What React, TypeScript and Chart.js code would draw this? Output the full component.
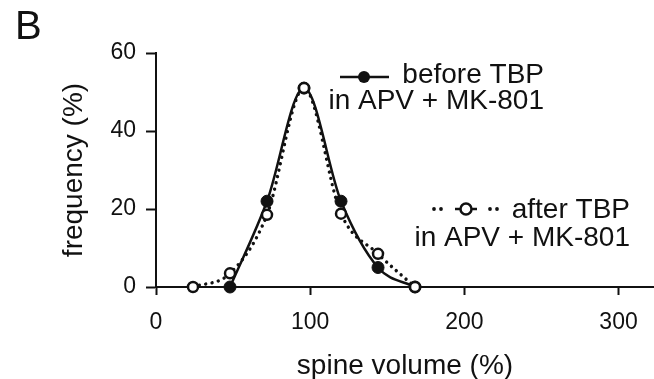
import React, { useEffect, useRef } from "react";
import { Chart, registerables } from "chart.js";

Chart.register(...registerables);

// ---- data ----
const bins = [24, 48, 72, 96, 120, 144, 168];
const beforeTBP: (number | null)[] = [null, 0, 22, 51, 22, 5, 0];
const afterTBP: (number | null)[] = [0, 3.5, 18.5, 51, 18.8, 8.5, 0];
const xTicks = [0, 100, 200, 300];
const yTicks = [0, 20, 40, 60];
const xRange = [0, 323];
const yRange = [0, 60];
const panelLabel = "B";
const legendBefore = ["before TBP", "in APV + MK-801"];
const legendAfter = ["after TBP", "in APV + MK-801"];
const xTitle = "spine volume (%)";
const yTitle = "frequency (%)";

const FONT = 'Arial, "Liberation Sans", Helvetica, sans-serif';
const INK = "#111";

const toPoints = (vals: (number | null)[]) =>
  bins
    .map((x, i) => ({ x, y: vals[i] }))
    .filter((p) => p.y !== null) as { x: number; y: number }[];

const overlay = {
  id: "overlay",
  afterDraw(chart: any) {
    const ctx = chart.ctx as CanvasRenderingContext2D;
    ctx.save();
    ctx.fillStyle = INK;
    ctx.strokeStyle = INK;
    ctx.textBaseline = "alphabetic";
    ctx.textAlign = "left";
    ctx.font = `40px ${FONT}`;
    ctx.fillText(panelLabel, 15, 39);

    ctx.font = `28px ${FONT}`;
    ctx.textAlign = "right";
    ctx.fillText(legendBefore[0], 544, 83);
    ctx.fillText(legendBefore[1], 544, 109);
    ctx.fillText(legendAfter[0], 630, 218);
    ctx.fillText(legendAfter[1], 630, 246);

    // legend sample: before (solid + filled dot)
    ctx.lineWidth = 2.5;
    ctx.beginPath();
    ctx.moveTo(340, 77);
    ctx.lineTo(389, 77);
    ctx.stroke();
    ctx.beginPath();
    ctx.arc(364, 77, 6, 0, Math.PI * 2);
    ctx.fill();

    // legend sample: after (dots + open circle)
    [434, 441, 490, 497].forEach((dx) => {
      ctx.beginPath();
      ctx.arc(dx, 209, 1.9, 0, Math.PI * 2);
      ctx.fill();
    });
    ctx.lineWidth = 2.5;
    ctx.beginPath();
    ctx.moveTo(455, 209);
    ctx.lineTo(477, 209);
    ctx.stroke();
    ctx.beginPath();
    ctx.arc(466, 209, 5.5, 0, Math.PI * 2);
    ctx.fillStyle = "#fff";
    ctx.fill();
    ctx.stroke();
    ctx.restore();
  },
};

export default function App() {
  const ref = useRef<HTMLCanvasElement | null>(null);

  useEffect(() => {
    if (!ref.current) return;
    const axisCommon = {
      type: "linear" as const,
      border: { display: true, color: INK, width: 2 },
      grid: {
        display: true,
        drawOnChartArea: false,
        drawTicks: true,
        tickColor: INK,
        tickWidth: 2,
      },
    };
    const chart = new Chart(ref.current, {
      type: "line",
      data: {
        datasets: [
          {
            label: "after",
            data: toPoints(afterTBP),
            borderColor: INK,
            borderWidth: 3.4,
            borderDash: [0.01, 6.5],
            borderCapStyle: "round",
            cubicInterpolationMode: "monotone",
            pointRadius: 5,
            pointBackgroundColor: "#fff",
            pointBorderColor: INK,
            pointBorderWidth: 2.5,
            clip: false,
            order: 0,
          } as any,
          {
            label: "before",
            data: toPoints(beforeTBP),
            borderColor: INK,
            borderWidth: 2.5,
            cubicInterpolationMode: "monotone",
            pointRadius: 6,
            pointBackgroundColor: INK,
            pointBorderColor: INK,
            pointBorderWidth: 1,
            clip: false,
            order: 1,
          } as any,
        ],
      },
      options: {
        animation: false,
        responsive: true,
        maintainAspectRatio: false,
        layout: { autoPadding: false, padding: { top: 53, right: 0, bottom: 0, left: 0 } },
        plugins: { legend: { display: false }, tooltip: { enabled: false } },
        scales: {
          x: {
            ...axisCommon,
            min: xRange[0],
            max: xRange[1],
            afterBuildTicks: (s: any) => {
              s.ticks = xTicks.map((v) => ({ value: v }));
            },
            afterFit: (s: any) => {
              s.height = 92;
              s.paddingLeft = 0;
              s.paddingRight = 0;
            },
            grid: { ...axisCommon.grid, tickLength: 8 },
            ticks: { color: INK, font: { family: FONT, size: 23 }, padding: 14, maxRotation: 0 },
            title: {
              display: true,
              text: xTitle,
              color: INK,
              font: { family: FONT, size: 28 },
              padding: { top: 0, bottom: -4 },
            },
          },
          y: {
            ...axisCommon,
            min: yRange[0],
            max: yRange[1],
            afterBuildTicks: (s: any) => {
              s.ticks = yTicks.map((v) => ({ value: v }));
            },
            afterFit: (s: any) => {
              s.width = 156;
            },
            grid: { ...axisCommon.grid, tickLength: 10 },
            ticks: { color: INK, font: { family: FONT, size: 23 }, padding: 10 },
            title: {
              display: true,
              text: yTitle,
              color: INK,
              font: { family: FONT, size: 28 },
              padding: { top: 57, bottom: 0 },
            },
          },
        },
      } as any,
      plugins: [overlay],
    });
    return () => chart.destroy();
  }, []);

  return (
    <div style={{ position: "absolute", left: 0, top: 0, width: 654, height: 379, background: "#fff" }}>
      <canvas ref={ref} />
    </div>
  );
}
